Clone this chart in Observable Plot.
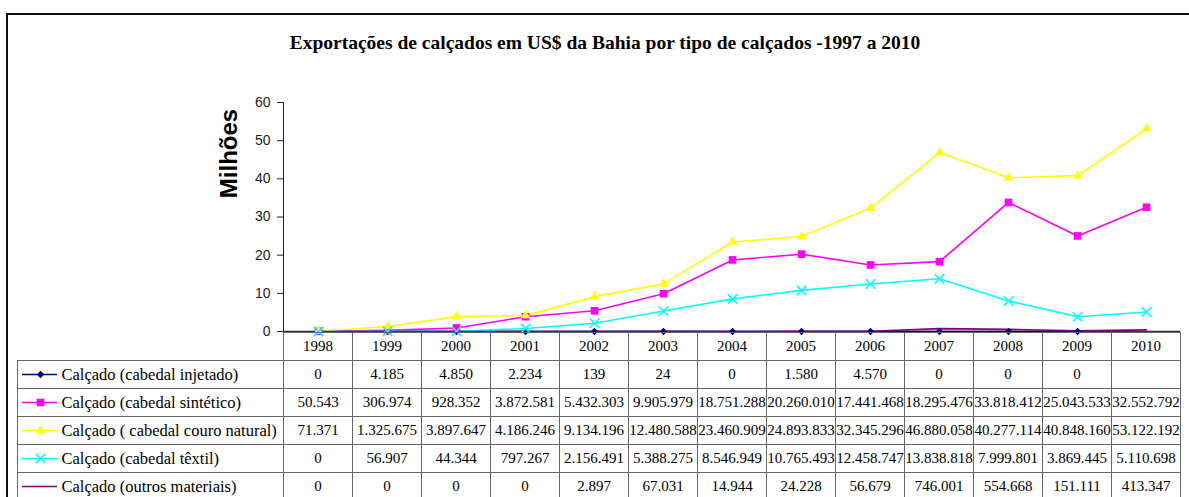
<!DOCTYPE html>
<html>
<head>
<meta charset="utf-8">
<script src="https://cdn.jsdelivr.net/npm/d3@7"></script>
<script src="https://cdn.jsdelivr.net/npm/@observablehq/plot@0.6"></script>
<style>
html, body { margin: 0; padding: 0; background: #fff; }
#wrap { position: relative; width: 1189px; height: 497px; overflow: hidden; background: #fff; }
#frame { position: absolute; left: 6px; top: 13px; width: 1300px; height: 600px; border-left: 2px solid #111; border-top: 2px solid #111; }
#title { position: absolute; left: 0; top: 31px; width: 1210px; text-align: center; font: bold 19.5px "Liberation Serif", serif; line-height: 24px; color: #000; }
.layer { position: absolute; }
.layer svg { overflow: visible; background: transparent; }
</style>
</head>
<body>
<div id="wrap">
  <div id="frame"></div>
  <div id="title">Exportações de calçados em US$ da Bahia por tipo de calçados -1997 a 2010</div>
  <div id="chart" class="layer" style="left:0;top:80px"></div>
  <div id="legend" class="layer" style="left:0;top:331px"></div>
  <div id="table" class="layer" style="left:0;top:331px"></div>
</div>
<script>
// ---- data ----
const years = [1998, 1999, 2000, 2001, 2002, 2003, 2004, 2005, 2006, 2007, 2008, 2009, 2010];
const seriesNames = [
  "Calçado (cabedal injetado)",
  "Calçado (cabedal sintético)",
  "Calçado ( cabedal couro natural)",
  "Calçado (cabedal têxtil)",
  "Calçado (outros materiais)"
];
const injetado = [0, 4185, 4850, 2234, 139, 24, 0, 1580, 4570, 0, 0, 0, null];
const sintetico = [50543, 306974, 928352, 3872581, 5432303, 9905979, 18751288, 20260010, 17441468, 18295476, 33818412, 25043533, 32552792];
const couroNatural = [71371, 1325675, 3897647, 4186246, 9134196, 12480588, 23460909, 24893833, 32345296, 46880058, 40277114, 40848160, 53122192];
const textil = [0, 56907, 44344, 797267, 2156491, 5388275, 8546949, 10765493, 12458747, 13838818, 7999801, 3869445, 5110698];
const outros = [0, 0, 0, 0, 2897, 67031, 14944, 24228, 56679, 746001, 554668, 151111, 413347];
const seriesValues = [injetado, sintetico, couroNatural, textil, outros];
const colors = ["#000080", "#FF00FF", "#FFFF00", "#00FFFF", "#800080"];
const yTitle = "Milhões";

// ---- styles ----
const diamond = {
  draw(ctx, size) {
    const r = Math.sqrt(size) * 0.7;
    ctx.moveTo(0, -r); ctx.lineTo(r, 0); ctx.lineTo(0, r); ctx.lineTo(-r, 0); ctx.closePath();
  }
};
const markerStyle = [
  {symbol: diamond, r: 3, filled: true},
  {symbol: "square", r: 4.3, filled: true},
  {symbol: "triangle", r: 3.6, filled: true},
  {symbol: "times", r: 4.4, filled: false},
  null
];

const fmt = d3.formatLocale({decimal: ",", thousands: ".", grouping: [3], currency: ["", ""]}).format(",d");

// long table built from the arrays
const rows = [];
seriesNames.forEach((name, s) => years.forEach((yr, i) => rows.push({series: name, year: yr, value: seriesValues[s][i]})));

const colorScale = {domain: seriesNames, range: colors};

// ---- chart ----
const chartMarks = [
  Plot.ruleY([0], {stroke: "#333", strokeWidth: 1.5}),
  Plot.line(rows, {
    x: "year", y: d => d.value == null ? NaN : d.value / 1e6,
    z: "series", stroke: "series", strokeWidth: 1.6
  })
];
seriesNames.forEach((name, s) => {
  const m = markerStyle[s];
  if (!m) return;
  const data = rows.filter(d => d.series === name && d.value != null);
  chartMarks.push(Plot.dot(data, {
    x: "year", y: d => d.value / 1e6, symbol: m.symbol, r: m.r,
    fill: m.filled ? colors[s] : "none",
    stroke: m.filled ? "none" : colors[s],
    strokeWidth: 1.5
  }));
});
chartMarks.push(Plot.text([yTitle], {
  frameAnchor: "top-left", dx: -54, dy: 51, rotate: -90,
  textAnchor: "middle", lineAnchor: "middle",
  fontSize: 24, fontWeight: "bold", fontFamily: "Liberation Sans", fill: "#000"
}));

const chart = Plot.plot({
  width: 1189, height: 254,
  marginLeft: 283, marginRight: 9, marginTop: 22, marginBottom: 3,
  style: {background: "transparent", overflow: "visible", fontFamily: "Liberation Sans", fontSize: "14px", color: "#222"},
  x: {type: "point", domain: years, padding: 0.5, axis: null},
  y: {domain: [0, 60], ticks: 6, tickSize: 6, tickPadding: 7, label: null, line: true},
  color: colorScale,
  marks: chartMarks
});
document.getElementById("chart").appendChild(chart);

// ---- data table ----
const tableRows = ["header", ...seriesNames];
const cells = [];
years.forEach((yr, i) => {
  cells.push({row: "header", year: yr, text: String(yr)});
  seriesNames.forEach((name, s) => {
    const v = seriesValues[s][i];
    cells.push({row: name, year: yr, text: v == null ? "" : fmt(v)});
  });
});

const table = Plot.plot({
  width: 1189, height: 170,
  marginLeft: 283, marginRight: 9, marginTop: 0, marginBottom: 0,
  style: {background: "transparent", overflow: "visible", fontFamily: "Liberation Serif"},
  x: {type: "band", domain: years, padding: 0, axis: null},
  y: {type: "band", domain: tableRows, padding: 0, axis: null},
  marks: [
    Plot.cell(cells, {x: "year", y: "row", fill: "none", stroke: "#666", shapeRendering: "crispEdges"}),
    Plot.text(cells, {x: "year", y: "row", text: "text", fontSize: 15, fontFamily: "Liberation Serif", fill: "#000"})
  ]
});
document.getElementById("table").appendChild(table);

// ---- legend column of the table ----
const legendMarks = [
  Plot.cell(seriesNames, {x: () => "label", y: d => d, fill: "none", stroke: "#666", shapeRendering: "crispEdges"}),
  Plot.ruleY(seriesNames, {y: d => d, stroke: d => d, strokeWidth: 1.5, insetLeft: 5, insetRight: 226})
];
seriesNames.forEach((name, s) => {
  const m = markerStyle[s];
  if (!m) return;
  legendMarks.push(Plot.dot([name], {
    y: d => d, frameAnchor: "left", dx: 23, symbol: m.symbol, r: m.r,
    fill: m.filled ? colors[s] : "none",
    stroke: m.filled ? "none" : colors[s],
    strokeWidth: 1.5
  }));
});
legendMarks.push(Plot.text(seriesNames, {
  y: d => d, text: d => d, frameAnchor: "left", dx: 44, textAnchor: "start",
  fontSize: 16.5, fontFamily: "Liberation Serif, serif", fill: "#000"
}));

const legend = Plot.plot({
  width: 283, height: 170,
  marginLeft: 17, marginRight: 0, marginTop: 0, marginBottom: 0,
  style: {background: "transparent", overflow: "visible", fontFamily: "Liberation Serif, serif"},
  x: {type: "band", domain: ["label"], padding: 0, axis: null},
  y: {type: "band", domain: tableRows, padding: 0, axis: null},
  color: colorScale,
  marks: legendMarks
});
document.getElementById("legend").appendChild(legend);
</script>
</body>
</html>
